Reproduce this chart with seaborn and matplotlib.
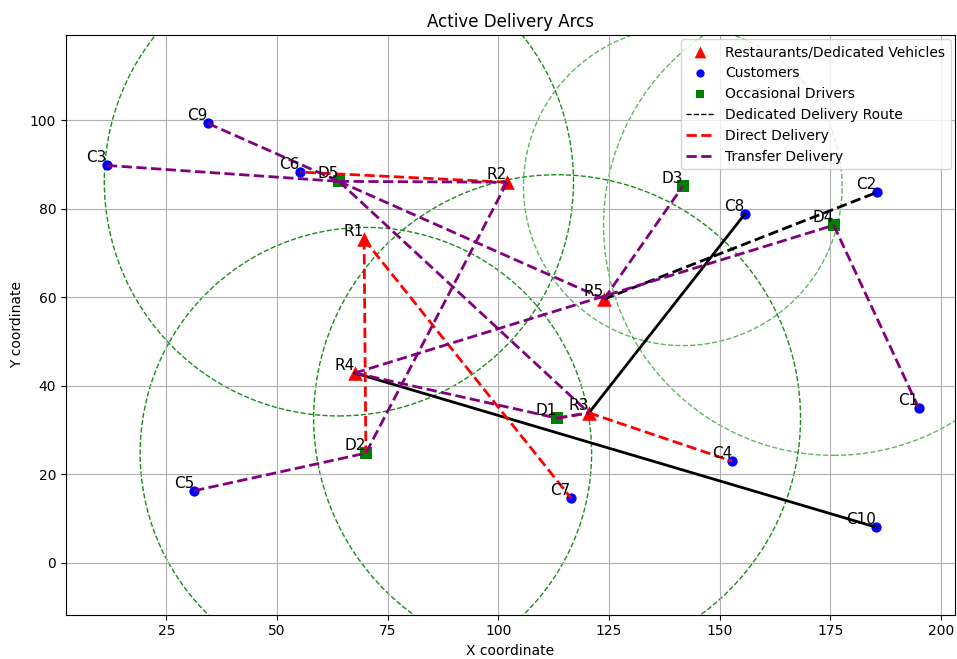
import pandas as pd
import matplotlib
matplotlib.use("Agg")
import matplotlib.pyplot as plt
from matplotlib.lines import Line2D
from matplotlib.patches import Circle
import seaborn as sns

# node data
rest_names = ["R1", "R2", "R3", "R4", "R5"]
rest_x = [69.7, 102.0, 120.5, 67.6, 123.9]
rest_y = [73.1, 86.0, 33.9, 42.9, 59.6]

cust_names = ["C1", "C2", "C3", "C4", "C5", "C6", "C7", "C8", "C9", "C10"]
cust_x = [195.0, 185.5, 11.6, 152.8, 31.3, 55.2, 116.4, 155.7, 34.4, 185.3]
cust_y = [35.0, 83.7, 89.8, 23.0, 16.3, 88.3, 14.7, 78.8, 99.3, 8.1]

drv_names = ["D1", "D2", "D3", "D4", "D5"]
drv_x = [113.3, 70.1, 141.7, 175.8, 64.0]
drv_y = [32.7, 24.8, 85.1, 76.3, 86.2]
drv_radius = [55, 51, 36, 52, 53]
drv_alpha = [0.9, 0.9, 0.6, 0.6, 0.9]

# arcs
dedicated_solid = [("R4", "C10"), ("R3", "C8")]
dedicated_dashed = [("R5", "C2")]
direct_arcs = [("R1", "C7"), ("R1", "D2"), ("R2", "C6"), ("R3", "C4"), ("D1", "R3")]
transfer_arcs = [("C9", "D5"), ("C3", "D5"), ("D5", "R2"), ("D5", "R5"), ("D5", "R3"),
                 ("R2", "D2"), ("C5", "D2"), ("R4", "D4"), ("D4", "C1"),
                 ("R5", "D3"), ("R4", "D1"), ("D1", "R3")]

pos = {}
for n, x, y in zip(rest_names + cust_names + drv_names,
                   rest_x + cust_x + drv_x, rest_y + cust_y + drv_y):
    pos[n] = (x, y)

df_r = pd.DataFrame({"name": rest_names, "x": rest_x, "y": rest_y})
df_c = pd.DataFrame({"name": cust_names, "x": cust_x, "y": cust_y})
df_d = pd.DataFrame({"name": drv_names, "x": drv_x, "y": drv_y})

fig = plt.figure(figsize=(9.57, 6.59), dpi=100)
ax = fig.add_axes([66 / 957, 44 / 659, 889 / 957, 580 / 659])

# coverage circles of occasional drivers
for x, y, r, a in zip(drv_x, drv_y, drv_radius, drv_alpha):
    ax.add_patch(Circle((x, y), r, fill=False, edgecolor="green", linestyle="--",
                        linewidth=1, alpha=a, zorder=1))

sns.scatterplot(data=df_r, x="x", y="y", marker="^", color="red", s=110, linewidth=0,
                ax=ax, label="Restaurants/Dedicated Vehicles", zorder=2)
sns.scatterplot(data=df_c, x="x", y="y", marker="o", color="blue", s=55, linewidth=0,
                ax=ax, label="Customers", zorder=2)
sns.scatterplot(data=df_d, x="x", y="y", marker="s", color="green", s=65, linewidth=0,
                ax=ax, label="Occasional Drivers", zorder=2)

for a, b in dedicated_solid:
    ax.plot([pos[a][0], pos[b][0]], [pos[a][1], pos[b][1]], color="black", lw=2, zorder=3)
for a, b in dedicated_dashed:
    ax.plot([pos[a][0], pos[b][0]], [pos[a][1], pos[b][1]], color="black", lw=2, ls="--", zorder=3)
for a, b in direct_arcs:
    ax.plot([pos[a][0], pos[b][0]], [pos[a][1], pos[b][1]], color="red", lw=2, ls="--", zorder=3)
for a, b in transfer_arcs:
    ax.plot([pos[a][0], pos[b][0]], [pos[a][1], pos[b][1]], color="purple", lw=2, ls="--", zorder=3)

for n, (x, y) in pos.items():
    ax.text(x, y, n, ha="right", va="bottom", fontsize=11, zorder=4)

ax.set_xlim(2.35, 203.2)
ax.set_ylim(-11.7, 119.2)
ax.set_aspect("equal", adjustable="box")
ax.grid(True)
ax.set_title("Active Delivery Arcs")
ax.set_xlabel("X coordinate")
ax.set_ylabel("Y coordinate")

handles, labels = ax.get_legend_handles_labels()
handles = handles[:3] + [
    Line2D([], [], color="black", ls="--", lw=1),
    Line2D([], [], color="red", ls="--", lw=2),
    Line2D([], [], color="purple", ls="--", lw=2),
]
labels = labels[:3] + ["Dedicated Delivery Route", "Direct Delivery", "Transfer Delivery"]
ax.legend(handles, labels, loc="upper right", scatterpoints=1, markerscale=0.8,
          borderaxespad=0.3)

fig.savefig("out.png", dpi=100)
